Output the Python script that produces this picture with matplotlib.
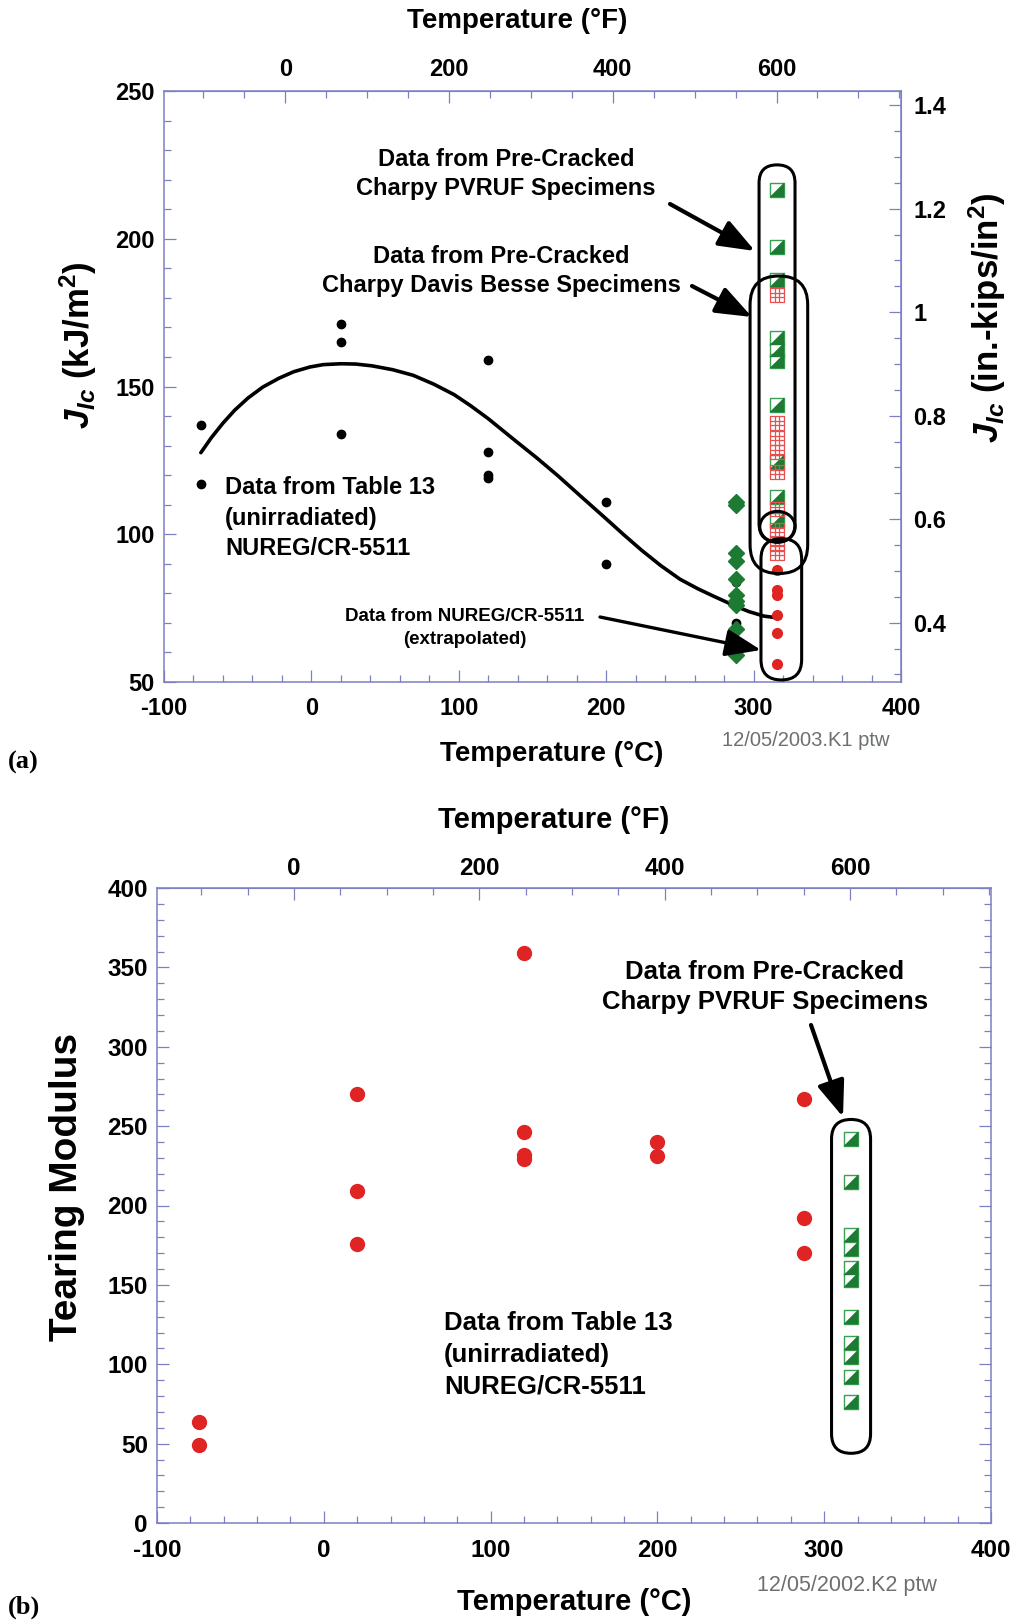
import numpy as np
import matplotlib
matplotlib.use('Agg')
import matplotlib.pyplot as plt
from matplotlib.path import Path
from matplotlib.patches import FancyBboxPatch, Ellipse, FancyArrowPatch
from matplotlib.ticker import MultipleLocator, FixedLocator, FuncFormatter

plt.rcParams['font.family'] = ['Liberation Sans', 'DejaVu Sans']
plt.rcParams['font.weight'] = 'bold'
plt.rcParams['axes.unicode_minus'] = False
plt.rcParams['mathtext.fontset'] = 'custom'
plt.rcParams['mathtext.rm'] = 'Liberation Sans:bold'
plt.rcParams['mathtext.it'] = 'Liberation Sans:italic:bold'
plt.rcParams['mathtext.bf'] = 'Liberation Sans:bold'

# ---------------- data: panel (a) ----------------
t13_T = [-75, -75, 20, 20, 20, 120, 120, 120, 120, 200, 200, 288, 288]
t13_J = [137, 117, 171, 165, 134, 159, 128, 120, 119, 111, 90, 84, 70]
diam_T = [288] * 10
diam_J = [111, 110, 93.5, 91, 85, 79.5, 77.5, 76, 68, 59]
nureg_T = [316] * 6
nureg_J = [88, 81, 79.4, 72.7, 66.5, 56]
pvruf_T = [316] * 10
pvruf_J = [216.5, 197.3, 186, 166.3, 162.3, 158.7, 143.7, 124.5, 112.7, 104.8]
db_T = [316] * 9
db_J = [181, 137.5, 132.5, 128, 121, 108.5, 101.5, 97, 93.5]
fit_T = [-75, -68, -60, -52, -43, -33, -22, -12, -1, 8, 20, 30, 41, 55, 69, 83, 97,
         108, 120, 139, 153, 167, 184, 200, 212, 224, 237, 250, 262, 273, 288, 297, 307, 318]
fit_J = [127.6, 132.6, 137.6, 142.0, 146.1, 149.8, 152.8, 155.0, 156.6, 157.4, 157.7, 157.6,
         157.0, 155.7, 153.8, 150.8, 147.2, 143.5, 139.1, 131.4, 125.8, 119.9, 112.3, 105.2,
         99.8, 94.6, 89.4, 84.8, 81.6, 79.0, 75.6, 73.8, 72.3, 71.6]

# ---------------- data: panel (b) ----------------
tm_T = [-75, -75, 20, 20, 20, 120, 120, 120, 120, 200, 200, 288, 288, 288]
tm_V = [63.5, 49, 270, 209, 176, 359, 246, 232, 229, 240, 231, 267, 192, 170]
pvrufb_T = [316] * 11
pvrufb_V = [241.7, 214.6, 181.4, 172.4, 160.4, 153.1, 130, 113.2, 104.8, 92.2, 76.4]

W, H = 1016, 1621
fig = plt.figure(figsize=(W / 100, H / 100), dpi=100)

AX_COL = '#7b80c4'
GREEN_F = '#1d7a32'
GREEN_E = '#3aa052'
RED = '#e02424'


def px_axes(l, t, r, b):
    return fig.add_axes([l / W, 1 - b / H, (r - l) / W, (b - t) / H])


def ftext(x, y, s, **kw):
    fig.text(x / W, 1 - y / H, s, **kw)


def farrow(x0, y0, x1, y1, **kw):
    fig.add_artist(FancyArrowPatch((x0 / W, 1 - y0 / H), (x1 / W, 1 - y1 / H),
                                   transform=fig.transFigure, **kw))


c2f = lambda c: np.asarray(c) * 9 / 5 + 32
f2c = lambda f: (np.asarray(f) - 32) * 5 / 9

sq_path = Path([(-1, -1), (1, -1), (1, 1), (-1, 1), (-1, -1)],
               [Path.MOVETO, Path.LINETO, Path.LINETO, Path.LINETO, Path.CLOSEPOLY])
tri_lr = Path([(-1, -1), (1, -1), (1, 1), (-1, -1)],
              [Path.MOVETO, Path.LINETO, Path.LINETO, Path.CLOSEPOLY])
a = 1 / 3
grid_path = Path([(-1, -1), (1, -1), (1, 1), (-1, 1), (-1, -1),
                  (-a, -1), (-a, 1), (a, -1), (a, 1),
                  (-1, -a), (1, -a), (-1, a), (1, a)],
                 [Path.MOVETO, Path.LINETO, Path.LINETO, Path.LINETO, Path.LINETO,
                  Path.MOVETO, Path.LINETO, Path.MOVETO, Path.LINETO,
                  Path.MOVETO, Path.LINETO, Path.MOVETO, Path.LINETO])


def half_squares(ax, x, y, tri, ms):
    ax.plot(x, y, ls='none', marker=sq_path, ms=ms, mfc='white', mec=GREEN_E, mew=1.0, zorder=4)
    ax.plot(x, y, ls='none', marker=tri, ms=ms, mfc=GREEN_F, mec=GREEN_F, mew=0.3, zorder=5)


def style_axes(ax):
    for sp in ax.spines.values():
        sp.set_color(AX_COL)
        sp.set_linewidth(1.1)
    ax.tick_params(which='both', direction='in', color=AX_COL, width=0.9)
    ax.tick_params(which='major', length=8.5)
    ax.tick_params(which='minor', length=5)


def capsule(ax, x0, x1, y0, y1, ma, lw=2.2):
    w = x1 - x0
    p = FancyBboxPatch((x0, y0), w, y1 - y0,
                       boxstyle=f"round,pad=0,rounding_size={w / 2:.4f}",
                       mutation_aspect=ma, fill=False, ec='black', lw=lw, zorder=6)
    ax.add_patch(p)


TICK_FS = 17

# ================= panel (a) =================
axA = px_axes(164, 91, 901, 682)
axA.set_xlim(-100, 400)
axA.set_ylim(50, 250)
style_axes(axA)
axA.xaxis.set_major_locator(MultipleLocator(100))
axA.xaxis.set_minor_locator(MultipleLocator(20))
axA.yaxis.set_major_locator(MultipleLocator(50))
axA.yaxis.set_minor_locator(MultipleLocator(10))
axA.tick_params(axis='x', which='both', top=False, bottom=True)
axA.tick_params(axis='y', which='both', right=False, left=True)
axA.tick_params(axis='x', which='major', labelsize=TICK_FS, pad=10.5)
axA.tick_params(axis='y', which='major', labelsize=TICK_FS, pad=6.5)

secx = axA.secondary_xaxis('top', functions=(c2f, f2c))
secx.xaxis.set_major_locator(FixedLocator([0, 200, 400, 600]))
secx.xaxis.set_minor_locator(MultipleLocator(50))
secx.tick_params(which='both', direction='in', color=AX_COL, width=0.9)
secx.tick_params(which='major', length=8.5, labelsize=TICK_FS, pad=7.5)
secx.tick_params(which='minor', length=5)
secx.spines['top'].set_color(AX_COL)

k2i = lambda j: np.asarray(j) / 175.127
i2k = lambda v: np.asarray(v) * 175.127
secy = axA.secondary_yaxis('right', functions=(k2i, i2k))
secy.yaxis.set_major_locator(FixedLocator([0.4, 0.6, 0.8, 1.0, 1.2, 1.4]))
secy.yaxis.set_minor_locator(MultipleLocator(0.05))
secy.yaxis.set_major_formatter(FuncFormatter(lambda v, p: f"{v:g}"))
secy.tick_params(which='both', direction='in', color=AX_COL, width=0.9)
secy.tick_params(which='major', length=8.5, labelsize=TICK_FS, pad=9)
secy.tick_params(which='minor', length=5)
secy.spines['right'].set_color(AX_COL)

axA.plot(fit_T, fit_J, color='black', lw=2.6, zorder=3, solid_capstyle='round',
         solid_joinstyle='round')
axA.plot(t13_T, t13_J, ls='none', marker='o', ms=6, mfc='black', mec='black', zorder=4)
axA.plot(diam_T, diam_J, ls='none', marker='D', ms=8, mfc=GREEN_F, mec=GREEN_F, zorder=4)
axA.plot(nureg_T, nureg_J, ls='none', marker='o', ms=7, mfc=RED, mec=RED, zorder=4)
half_squares(axA, pvruf_T, pvruf_J, tri_lr, 9.5)
axA.plot(db_T, db_J, ls='none', marker=grid_path, ms=9.5, mfc='none', mec='#e85050', mew=0.9, zorder=5)

bbA = axA.get_position()
maA = ((bbA.width * W) / 500) / ((bbA.height * H) / 200)
capsule(axA, 303.7, 328.1, 97.5, 225.0, maA)
capsule(axA, 297.6, 336.7, 86.7, 187.4, maA)
capsule(axA, 305.0, 332.6, 50.7, 98.5, maA)
axA.add_patch(Ellipse((316.2, 102.5), 24.0, 10.5, fill=False, ec='black', lw=2.2, zorder=6))

ANN_FS = 17
arw = dict(arrowstyle='-|>,head_length=1.1,head_width=0.42', lw=3, color='black',
           shrinkA=0, shrinkB=0, mutation_scale=20)

ftext(506, 174, 'Data from Pre-Cracked\nCharpy PVRUF Specimens', ha='center', va='center',
      fontsize=ANN_FS, linespacing=1.35)
ftext(501, 271, 'Data from Pre-Cracked\nCharpy Davis Besse Specimens', ha='center', va='center',
      fontsize=ANN_FS, linespacing=1.35)
ftext(225, 518, 'Data from Table 13\n(unirradiated)\nNUREG/CR-5511', ha='left', va='center',
      fontsize=ANN_FS, linespacing=1.4)
ftext(465, 628, 'Data from NUREG/CR-5511\n(extrapolated)', ha='center', va='center',
      fontsize=13.5, linespacing=1.45)

farrow(670, 204, 755, 251, **arw)
farrow(692, 286, 752, 317, **arw)
farrow(600, 617, 761, 650, **dict(arw, lw=2.4))

ftext(552, 754, 'Temperature (°C)', ha='center', va='center', fontsize=20)
ftext(517, 21, 'Temperature (°F)', ha='center', va='center', fontsize=20)
ftext(78, 345, r'$J_{Ic}$ (kJ/m$^{2}$)', ha='center', va='center', fontsize=25, rotation=90)
ftext(987, 318, r'$J_{Ic}$ (in.-kips/in$^{2}$)', ha='center', va='center', fontsize=25, rotation=90)
ftext(806, 741, '12/05/2003.K1 ptw', ha='center', va='center', fontsize=14.5,
      color='#6d7070', fontweight='normal')
ftext(8, 762, '(a)', ha='left', va='center', fontsize=19, family='Liberation Serif')

# ================= panel (b) =================
axB = px_axes(157, 888, 991, 1523)
axB.set_xlim(-100, 400)
axB.set_ylim(0, 400)
style_axes(axB)
axB.xaxis.set_major_locator(MultipleLocator(100))
axB.xaxis.set_minor_locator(MultipleLocator(20))
axB.yaxis.set_major_locator(MultipleLocator(50))
axB.yaxis.set_minor_locator(MultipleLocator(10))
axB.tick_params(axis='x', which='both', top=False, bottom=True)
axB.tick_params(axis='y', which='both', right=True, left=True)
axB.tick_params(axis='x', which='major', labelsize=TICK_FS + 0.5, pad=11.5)
axB.tick_params(axis='y', which='major', labelsize=TICK_FS + 0.5, pad=6.5)

secxB = axB.secondary_xaxis('top', functions=(c2f, f2c))
secxB.xaxis.set_major_locator(FixedLocator([0, 200, 400, 600]))
secxB.xaxis.set_minor_locator(MultipleLocator(50))
secxB.tick_params(which='both', direction='in', color=AX_COL, width=0.9)
secxB.tick_params(which='major', length=8.5, labelsize=TICK_FS + 0.5, pad=6)
secxB.tick_params(which='minor', length=5)
secxB.spines['top'].set_color(AX_COL)

axB.plot(tm_T, tm_V, ls='none', marker='o', ms=10, mfc=RED, mec=RED, zorder=4)
half_squares(axB, pvrufb_T, pvrufb_V, tri_lr, 9.5)

bbB = axB.get_position()
maB = ((bbB.width * W) / 500) / ((bbB.height * H) / 400)
capsule(axB, 304.4, 327.8, 43.9, 254.2, maB)

ftext(765, 987, 'Data from Pre-Cracked\nCharpy PVRUF Specimens', ha='center', va='center',
      fontsize=18.5, linespacing=1.35)
ftext(444, 1355, 'Data from Table 13\n(unirradiated)\nNUREG/CR-5511', ha='left', va='center',
      fontsize=18.5, linespacing=1.4)
farrow(811, 1025, 843, 1117, **arw)

ftext(574, 1602, 'Temperature (°C)', ha='center', va='center', fontsize=21)
ftext(554, 820, 'Temperature (°F)', ha='center', va='center', fontsize=21)
ftext(67, 1187, 'Tearing Modulus', ha='center', va='center', fontsize=28, rotation=90)
ftext(847, 1586, '12/05/2002.K2 ptw', ha='center', va='center', fontsize=15.5,
      color='#6d7070', fontweight='normal')
ftext(8, 1607, '(b)', ha='left', va='center', fontsize=19, family='Liberation Serif')

fig.savefig('out.png', dpi=100)
